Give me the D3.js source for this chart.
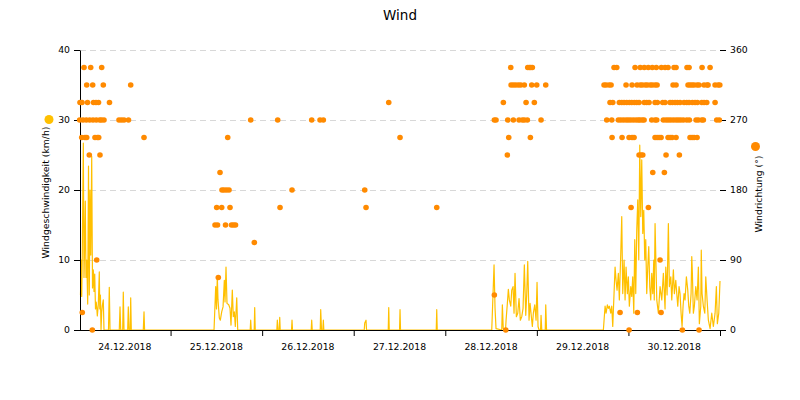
<!DOCTYPE html>
<html>
<head>
<meta charset="utf-8">
<script src="https://cdn.jsdelivr.net/npm/d3@7"></script>
<style>
  html, body { margin: 0; padding: 0; background: #fff; }
  svg { display: block; font-family: "DejaVu Sans", Verdana, sans-serif; }
</style>
</head>
<body>
<svg id="chart" width="800" height="400"></svg>
<script>
// ---- data (time = hours since 24.12.2018 00:00) ----
const title = "Wind";
const leftTitle = "Windgeschwindigkeit (km/h)";
const rightTitle = "Windrichtung (°)";
const dayLabels = ["24.12.2018","25.12.2018","26.12.2018","27.12.2018","28.12.2018","29.12.2018","30.12.2018"];
const speedTicks = [0, 10, 20, 30, 40];
const dirTicks = [0, 90, 180, 270, 360];

// wind speed [hour, km/h]
const speedSeries = [
  [0.39,5],[0.58,10],[0.71,4.8],[0.86,11],[1.13,26.7],[1.31,7.5],[1.47,12],[1.65,18.4],[1.83,7.5],[2.04,10],
  [2.28,3.7],[2.49,23.4],[2.70,5],[2.88,20],[3.09,10.7],[3.33,24.8],[3.54,6],[3.75,8.6],[3.93,5.5],[4.12,8],
  [4.32,3],[4.51,4],[4.64,3.3],[4.80,2],[5.06,3.6],[5.32,8.3],[5.45,3],[5.61,5],[5.77,0],[5.95,2.5],
  [6.11,3.5],[6.37,4.3],[6.55,0],[7.73,0],[7.94,6.1],[8.13,0],[10.56,0],[10.75,3.3],[10.93,0],[11.45,0],
  [11.61,5.4],[11.80,0],[12.76,0],[12.92,3.3],[13.11,0],[13.42,0],[13.55,4.6],[13.71,0],[16.85,0],[17.04,2.6],
  [17.19,0],
  [35.39,0],[35.83,6.2],[36.04,3],[36.25,7.6],[36.43,4.3],[36.78,1.7],[37.04,1.4],[37.40,2.6],[37.75,3.3],[38.09,7.1],
  [38.27,4],[38.53,9.0],[38.79,3.8],[39.24,3.6],[39.58,3.1],[39.84,0.7],[40.18,5.7],[40.44,1.9],[40.71,2.6],[40.97,0.5],
  [41.34,4.6],[41.60,0],[44.87,0],[45.00,1.4],[45.14,0],[45.92,0],[46.05,3.2],[46.19,0],[51.85,0],[51.98,1.4],
  [52.16,0],[52.48,0],[52.61,1.8],[52.74,0],[55.70,0],[55.83,1.4],[55.96,0],[60.86,0],[60.99,1.4],[61.13,0],
  [63.22,0],[63.35,2.9],[63.56,0],[63.90,0],[64.04,1.4],[64.17,0],[74.76,0],[74.89,1],[75.23,1.4],[75.36,0],
  [81.05,0],[81.18,3.2],[81.31,0],[84.01,0],[84.14,2.9],[84.27,0],[93.63,0],[93.76,2.9],[93.89,0],[108.18,0],
  [108.78,9.3],[109.04,3.1],[109.30,0.2],[110.80,0],[110.96,3.6],[111.19,0.2],[111.79,0],[111.93,1.4],[112.27,3.8],[112.53,5.8],
  [112.79,4.3],[113.16,3.4],[113.42,5.7],[113.76,6.2],[114.02,2.4],[114.28,8.1],[114.63,1.9],[114.99,2.4],[115.33,4.5],[115.67,1.4],
  [116.04,1.9],[116.38,3.1],[116.72,9.3],[117.09,2.1],[117.35,5.2],[117.61,9.8],[117.95,1.4],[118.22,3.8],[118.56,1.9],[118.82,0.5],
  [119.08,2.4],[119.45,3.6],[119.79,1.4],[120.05,6.8],[120.31,0.5],[120.58,0],[120.97,0],[121.10,2.1],[121.28,0],[122.20,0],
  [122.33,3.6],[122.54,0],[137.43,0],
  [137.88,3.4],[138.14,2.4],[138.48,3.6],[138.74,3.1],[139.00,3.4],[139.37,2.4],[139.63,3.4],[139.89,0.5],[140.23,5.2],[140.50,9.0],
  [140.76,7.1],[141.02,5.7],[141.36,8.1],[141.62,4.3],[141.99,10.9],[142.25,16.2],[142.51,5.2],[142.86,10],[143.12,4.3],[143.38,9],
  [143.72,5.2],[143.98,7.6],[144.24,3.4],[144.61,6.2],[144.87,4.8],[145.13,7.6],[145.40,2.4],[145.66,12.9],[145.92,5.2],[146.18,14.3],
  [146.45,18.6],[146.71,10],[146.97,26.4],[147.23,16.2],[147.49,24.3],[147.76,13.8],[148.02,17.1],[148.28,10],[148.54,12.9],[148.80,5.2],
  [149.07,9],[149.33,11.9],[149.59,6.2],[149.85,4.3],[150.11,8.1],[150.38,5.2],[150.64,10],[150.77,4.3],[150.98,15.2],[151.43,4.3],
  [151.85,2.4],[152.29,6.2],[152.74,4.3],[153.16,8.1],[153.60,3],[153.79,9],[154.13,5],[154.47,15.2],[154.73,6.2],[155.10,7.6],
  [155.36,4.3],[155.78,8.6],[156.04,5.2],[156.41,7.1],[156.67,5.2],[156.93,3.4],[157.27,6.2],[157.53,5.2],[157.80,2.4],[158.06,0.5],
  [158.32,3.4],[158.58,5.2],[158.84,4.3],[159.19,7.6],[159.55,5.7],[159.81,3.4],[160.08,2.4],[160.42,5.2],[160.60,10.5],[160.76,8.1],
  [161.02,2.4],[161.28,3.4],[161.65,6.2],[161.99,4.3],[162.33,9],[162.59,0.9],[162.96,3.4],[163.09,11.4],[163.30,5.2],[163.64,3.4],
  [164.01,2.4],[164.27,7.6],[164.61,4.3],[164.95,1.4],[165.40,0.2],[165.84,2.4],[166.26,0.5],[166.71,2.4],[167.05,6.2],[167.31,0.9],
  [167.68,2.4],[168,7]
];

// wind direction [hour, degrees]
const directionSeries = [
  [1.31,337.5],[3.07,337.5],[5.95,337.5],
  [2.02,315],[3.59,315],[6.37,315],[13.55,315],
  [0.26,292.5],[0.79,292.5],[2.23,292.5],[3.80,292.5],[4.46,292.5],[5.11,292.5],[7.99,292.5],
  [0.18,270],[1.05,270],[1.91,270],[2.80,270],[3.67,270],[4.53,270],[5.43,270],[5.90,270],[6.55,270],[10.48,270],[11.14,270],[11.80,270],[12.97,270],
  [0.71,247.5],[1.57,247.5],[2.02,247.5],[4.19,247.5],[4.80,247.5],[5.16,247.5],[17.04,247.5],
  [2.70,225],[5.50,225],[4.64,90],[0.86,22.5],[3.49,0],
  [35.65,135],[36.30,135],[38.40,135],[39.97,135],[40.50,135],[41.02,135],
  [36.09,157.5],[37.40,157.5],[39.58,157.5],[52.69,157.5],[75.23,157.5],[93.76,157.5],
  [37.48,180],[38.01,180],[38.66,180],[39.32,180],[55.83,180],[74.89,180],
  [36.96,202.5],[38.98,247.5],[84.14,247.5],
  [45.00,270],[52.08,270],[60.99,270],[63.17,270],[64.04,270],
  [81.18,292.5],[45.95,112.5],[36.51,67.5],
  [113.16,337.5],[117.61,337.5],[118.03,337.5],[118.40,337.5],[118.82,337.5],
  [113.24,315],[113.84,315],[114.47,315],[115.15,315],[115.78,315],[116.72,315],[118.66,315],[119.97,315],[122.33,315],
  [111.22,292.5],[117.17,292.5],[119.34,292.5],
  [108.86,270],[109.30,270],[112.37,270],[113.84,270],[115.33,270],[116.20,270],[116.72,270],[117.51,270],[121.10,270],
  [112.63,247.5],[118.30,247.5],[112.27,225],[108.86,45],[111.85,0],
  [140.23,337.5],[140.94,337.5],[145.74,337.5],[147.10,337.5],[148.15,337.5],[149.20,337.5],[150.25,337.5],[151.30,337.5],[152.63,337.5],
  [153.60,337.5],[154.39,337.5],[155.96,337.5],[156.48,337.5],[159.36,337.5],[159.89,337.5],[163.30,337.5],[165.40,337.5],
  [137.61,315],[138.14,315],[138.92,315],[139.45,315],[143.38,315],[144.95,315],[146.26,315],[147.10,315],[147.63,315],[148.41,315],
  [148.94,315],[149.72,315],[150.25,315],[150.98,315],[151.51,315],[155.70,315],[156.48,315],[159.63,315],[160.15,315],[160.68,315],
  [161.20,315],[161.99,315],[162.51,315],[163.82,315],[164.61,315],[164.87,315],[166.71,315],[167.49,315],[167.95,315],
  [139.18,292.5],[139.89,292.5],[141.62,292.5],[142.25,292.5],[142.86,292.5],[143.56,292.5],[144.24,292.5],[144.87,292.5],[145.55,292.5],
  [146.18,292.5],[146.79,292.5],[148.15,292.5],[148.80,292.5],[149.41,292.5],[150.98,292.5],[151.58,292.5],[152.99,292.5],[153.60,292.5],
  [154.91,292.5],[155.51,292.5],[156.22,292.5],[156.83,292.5],[157.53,292.5],[158.58,292.5],[159.29,292.5],[159.89,292.5],[160.76,292.5],
  [161.46,292.5],[162.07,292.5],[163.22,292.5],[163.82,292.5],[164.53,292.5],[166.71,292.5],
  [138.32,270],[139.63,270],[141.36,270],[141.99,270],[142.67,270],[143.38,270],[143.98,270],[144.61,270],[145.29,270],[146.00,270],
  [146.60,270],[147.05,270],[147.65,270],[148.10,270],[150.11,270],[150.98,270],[151.43,270],[153.16,270],[153.86,270],[154.47,270],
  [155.10,270],[155.78,270],[156.48,270],[157.09,270],[157.72,270],[158.40,270],[159.29,270],[159.97,270],[161.73,270],[162.33,270],
  [163.22,270],[163.64,270],[167.15,270],[167.83,270],
  [139.71,247.5],[142.33,247.5],[144.17,247.5],[144.95,247.5],[145.48,247.5],[150.98,247.5],[151.51,247.5],[152.03,247.5],[152.56,247.5],
  [154.39,247.5],[154.91,247.5],[155.44,247.5],[156.48,247.5],[160.15,247.5],[160.68,247.5],[161.20,247.5],[161.99,247.5],
  [146.79,225],[147.31,225],[147.76,225],[153.86,225],[157.35,225],
  [150.38,202.5],[153.42,202.5],[144.69,157.5],[149.23,157.5],[152.29,90],
  [141.81,22.5],[146.34,22.5],[152.56,22.5],
  [144.17,0],[158.14,0],[162.51,0]
];

// ---- drawing ----
const svg = d3.select("#chart");
const plot = { left: 79, right: 720, top: 50, bottom: 330 };
const speedColor = "#ffc000";
const dirColor = "#ff8a00";
const fs = "9.3px";

const x = d3.scaleLinear().domain([0, 168]).range([plot.left, plot.right]);
const yL = d3.scaleLinear().domain([0, 40]).range([plot.bottom, plot.top]);
const yR = d3.scaleLinear().domain([0, 360]).range([plot.bottom, plot.top]);

// grid
svg.append("g").selectAll("line").data(speedTicks.filter(d => d > 0)).join("line")
  .attr("x1", plot.left + 1).attr("x2", plot.right)
  .attr("y1", d => yL(d) + 0.5).attr("y2", d => yL(d) + 0.5)
  .attr("stroke", "#d8d8d8").attr("stroke-width", 1).attr("stroke-dasharray", "6,4");

// speed line
svg.append("path").datum(speedSeries)
  .attr("fill", "none").attr("stroke", speedColor).attr("stroke-width", 1.2)
  .attr("stroke-linejoin", "round")
  .attr("d", d3.line().x(d => x(d[0])).y(d => yL(d[1])));

// axes
const dayTicks = d3.range(24, 169, 24);
const gx = svg.append("g").attr("transform", `translate(0,${plot.bottom})`)
  .call(d3.axisBottom(x).tickValues(dayTicks).tickFormat("").tickSize(6).tickSizeOuter(0));
gx.select(".domain").attr("stroke", "#000");
svg.append("g").selectAll("text").data(dayLabels).join("text")
  .attr("x", (d, i) => x(i * 24 + 12)).attr("y", plot.bottom + 20)
  .attr("text-anchor", "middle").attr("font-size", fs).attr("fill", "#000").text(d => d);

const gl = svg.append("g").attr("transform", `translate(${plot.left + 1},0)`)
  .call(d3.axisLeft(yL).tickValues(speedTicks).tickSize(6).tickSizeOuter(0).tickPadding(4));
gl.selectAll("text").attr("font-size", fs).attr("font-family", "DejaVu Sans, sans-serif").attr("fill", "#000");

const gr = svg.append("g").attr("transform", `translate(${plot.right},0)`)
  .call(d3.axisRight(yR).tickValues(dirTicks).tickSize(6).tickSizeOuter(0).tickPadding(4));
gr.select(".domain").remove();
gr.selectAll("text").attr("font-size", fs).attr("font-family", "DejaVu Sans, sans-serif").attr("fill", "#000");

// direction dots
svg.append("g").selectAll("circle").data(directionSeries).join("circle")
  .attr("cx", d => x(d[0])).attr("cy", d => yR(d[1])).attr("r", 2.8)
  .attr("fill", dirColor);

// titles
svg.append("text").attr("x", 400).attr("y", 20).attr("text-anchor", "middle")
  .attr("font-size", "13.5px").attr("fill", "#000").text(title);

svg.append("text").attr("transform", "translate(49,192.5) rotate(-90)")
  .attr("text-anchor", "middle").attr("font-size", fs).attr("fill", "#000").text(leftTitle);
svg.append("circle").attr("cx", 49).attr("cy", 119.5).attr("r", 4.5).attr("fill", speedColor);

svg.append("text").attr("transform", "translate(762,194) rotate(-90)")
  .attr("text-anchor", "middle").attr("font-size", fs).attr("fill", "#000").text(rightTitle);
svg.append("circle").attr("cx", 755.5).attr("cy", 146.5).attr("r", 4.5).attr("fill", dirColor);
</script>
</body>
</html>
